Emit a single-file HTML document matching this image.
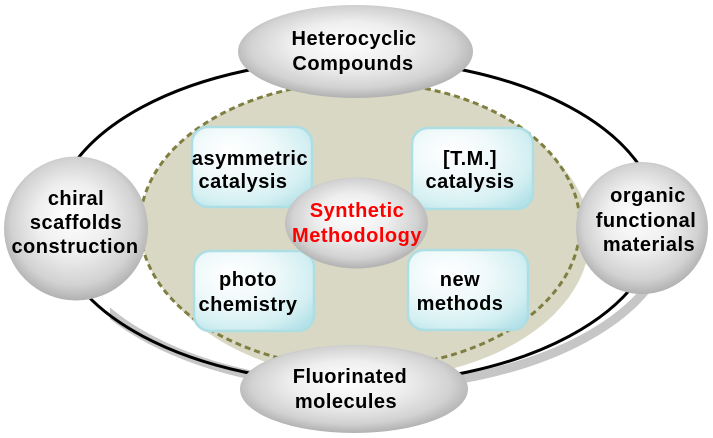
<!DOCTYPE html>
<html>
<head>
<meta charset="utf-8">
<style>
  html, body { margin: 0; padding: 0; background: #ffffff; }
  body { width: 713px; height: 438px; overflow: hidden; }
  svg { display: block; }
  text { font-family: "Liberation Sans", Arial, sans-serif; font-weight: bold; font-size: 20px; letter-spacing: 0.5px; }
</style>
</head>
<body>
<svg width="713" height="438" viewBox="0 0 713 438" xmlns="http://www.w3.org/2000/svg">
  <defs>
    <radialGradient id="sphere" cx="0.5" cy="0.47" r="0.56" fx="0.45" fy="0.4">
      <stop offset="0" stop-color="#ffffff"/>
      <stop offset="0.45" stop-color="#eeeeee"/>
      <stop offset="0.78" stop-color="#d2d2d2"/>
      <stop offset="1" stop-color="#a8a8a8"/>
    </radialGradient>
    <radialGradient id="box" cx="0.4" cy="0.38" r="0.75" fx="0.3" fy="0.28">
      <stop offset="0" stop-color="#ffffff"/>
      <stop offset="0.45" stop-color="#eff9fa"/>
      <stop offset="0.8" stop-color="#d3eff2"/>
      <stop offset="1" stop-color="#b4e2e8"/>
    </radialGradient>
    <clipPath id="lowerClip">
      <rect x="110" y="240" width="610" height="200"/>
    </clipPath>
  </defs>

  <!-- outer ring shadow -->
  <ellipse cx="366" cy="224" rx="306" ry="163" fill="none" stroke="#c6c6c6" stroke-width="9" clip-path="url(#lowerClip)"/>
  <!-- outer ring -->
  <ellipse cx="356" cy="221.5" rx="302" ry="162" fill="none" stroke="#000000" stroke-width="3"/>

  <!-- beige region (shadow + fill) -->
  <ellipse cx="370" cy="236" rx="220" ry="143" fill="#d9d8c4"/>
  <ellipse cx="360" cy="225" rx="220" ry="143" fill="#d9d8c4"/>
  <ellipse cx="360" cy="225" rx="220" ry="143" fill="none" stroke="#7f7f42" stroke-width="3" stroke-dasharray="6 4"/>

  <!-- boxes -->
  <rect x="192" y="127" width="120" height="80" rx="16" fill="url(#box)" stroke="#addee4" stroke-width="2.5"/>
  <rect x="412" y="128" width="121" height="81" rx="16" fill="url(#box)" stroke="#addee4" stroke-width="2.5"/>
  <rect x="194" y="251" width="120" height="80" rx="16" fill="url(#box)" stroke="#addee4" stroke-width="2.5"/>
  <rect x="408" y="250" width="120" height="80" rx="16" fill="url(#box)" stroke="#addee4" stroke-width="2.5"/>

  <text x="250" y="165" text-anchor="middle">asymmetric</text>
  <text x="243" y="188" text-anchor="middle">catalysis</text>
  <text x="470" y="165" text-anchor="middle">[T.M.]</text>
  <text x="470" y="188" text-anchor="middle">catalysis</text>
  <text x="248" y="286" text-anchor="middle">photo</text>
  <text x="248" y="311" text-anchor="middle">chemistry</text>
  <text x="460" y="286" text-anchor="middle">new</text>
  <text x="460" y="310" text-anchor="middle">methods</text>

  <!-- center -->
  <ellipse cx="356.5" cy="223" rx="71.5" ry="45.5" fill="url(#sphere)"/>
  <text x="357" y="217" text-anchor="middle" fill="#ff0000">Synthetic</text>
  <text x="357" y="242" text-anchor="middle" fill="#ff0000">Methodology</text>

  <!-- outer nodes -->
  <ellipse cx="355.5" cy="51.5" rx="117.5" ry="46.5" fill="url(#sphere)"/>
  <text x="354" y="45" text-anchor="middle">Heterocyclic</text>
  <text x="353" y="70" text-anchor="middle">Compounds</text>

  <circle cx="76" cy="228.5" r="72" fill="url(#sphere)"/>
  <text x="76" y="205" text-anchor="middle">chiral</text>
  <text x="76" y="229" text-anchor="middle">scaffolds</text>
  <text x="75" y="253" text-anchor="middle">construction</text>

  <circle cx="642" cy="228" r="66" fill="url(#sphere)"/>
  <text x="648" y="202" text-anchor="middle">organic</text>
  <text x="646" y="227" text-anchor="middle">functional</text>
  <text x="649" y="251" text-anchor="middle">materials</text>

  <ellipse cx="354" cy="389" rx="114" ry="44" fill="url(#sphere)"/>
  <text x="350" y="383" text-anchor="middle">Fluorinated</text>
  <text x="346" y="408" text-anchor="middle">molecules</text>
</svg>
</body>
</html>
